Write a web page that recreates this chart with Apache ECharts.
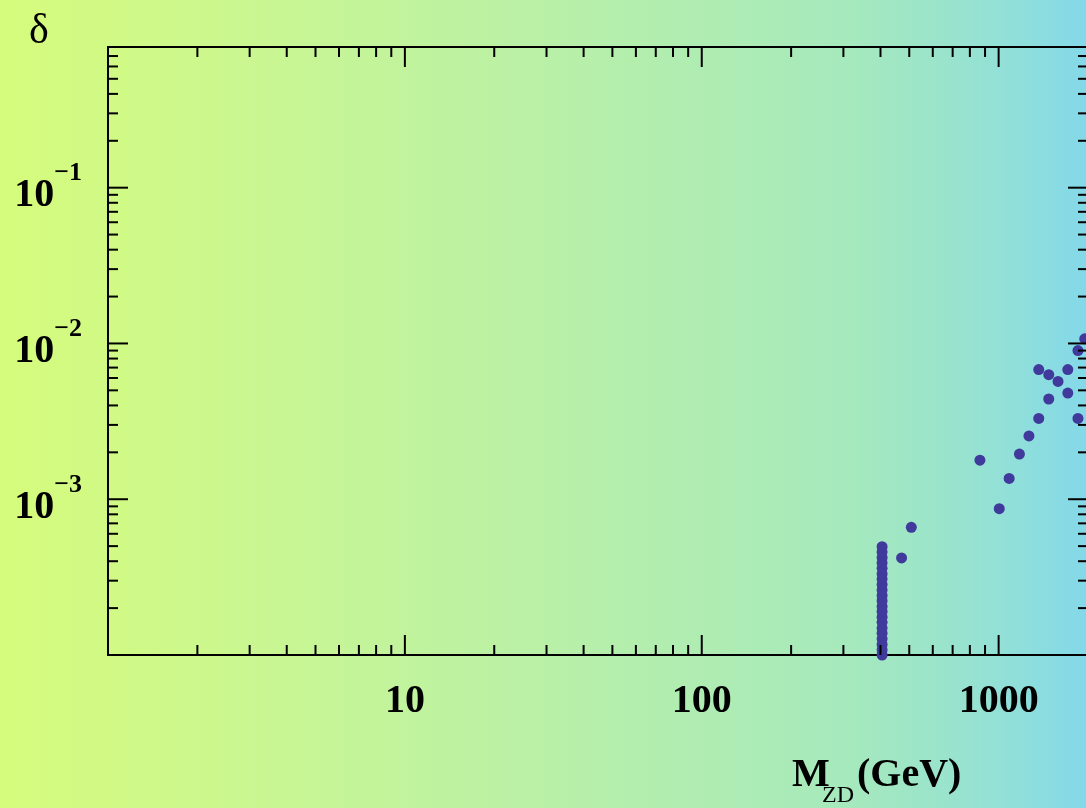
<!DOCTYPE html>
<html>
<head>
<meta charset="utf-8">
<script src="https://cdn.jsdelivr.net/npm/echarts@6/dist/echarts.min.js"></script>
<style>
  html, body { margin: 0; padding: 0; }
  #chart { width: 1086px; height: 808px; }
</style>
</head>
<body>
<div id="chart"></div>
<script>
// axis ranges
const xMin = 1, xMax = 2000;
const yMin = 1e-4, yMax = 0.8;

// vertical column of points at M_ZD ~ 405 GeV
const columnMass = 405;
const columnDelta = [1.00e-4, 1.08e-4, 1.17e-4, 1.27e-4, 1.38e-4, 1.49e-4, 1.62e-4, 1.75e-4,
  1.90e-4, 2.05e-4, 2.23e-4, 2.41e-4, 2.61e-4, 2.83e-4, 3.07e-4, 3.32e-4, 3.60e-4,
  3.90e-4, 4.22e-4, 4.58e-4, 4.96e-4];

// scattered points
const scanMass  = [471, 508, 865, 1005, 1085, 1175, 1265, 1365, 1365, 1475, 1475, 1585, 1710, 1710, 1850, 1850, 1950];
const scanDelta = [0.00042, 0.00066, 0.00178, 0.00087, 0.00136, 0.00195, 0.00255, 0.0033, 0.0068,
  0.0044, 0.0063, 0.0057, 0.0048, 0.0068, 0.0033, 0.0090, 0.0107];

// tick positions
const xMajorTicks = [1, 10, 100, 1000];
const xMinorTicks = [2, 3, 4, 5, 6, 7, 8, 9, 20, 30, 40, 50, 60, 70, 80, 90,
  200, 300, 400, 500, 600, 700, 800, 900];
const yMajorTicks = [1e-4, 1e-3, 1e-2, 1e-1];
const yMinorTicks = [2e-4, 3e-4, 4e-4, 5e-4, 6e-4, 7e-4, 8e-4, 9e-4,
  2e-3, 3e-3, 4e-3, 5e-3, 6e-3, 7e-3, 8e-3, 9e-3,
  2e-2, 3e-2, 4e-2, 5e-2, 6e-2, 7e-2, 8e-2, 9e-2,
  0.2, 0.3, 0.4, 0.5, 0.6, 0.7];

const serif = '"Liberation Serif", "DejaVu Serif", serif';

function isPow10(v) {
  let e = Math.log10(v);
  return Math.abs(e - Math.round(e)) < 1e-6;
}

function xTick(params, api) {
  let v = api.value(0), len = api.value(2) ? 20 : 10;
  let b = api.coord([v, yMin]), t = api.coord([v, yMax]);
  let st = { stroke: '#000', lineWidth: 2 };
  return { type: 'group', children: [
    { type: 'line', shape: { x1: b[0], y1: b[1], x2: b[0], y2: b[1] - len }, style: st },
    { type: 'line', shape: { x1: t[0], y1: t[1], x2: t[0], y2: t[1] + len }, style: st }
  ]};
}

function yTick(params, api) {
  let v = api.value(1), len = api.value(2) ? 20 : 10;
  let l = api.coord([xMin, v]), r = api.coord([xMax, v]);
  let st = { stroke: '#000', lineWidth: 2 };
  return { type: 'group', children: [
    { type: 'line', shape: { x1: l[0], y1: l[1], x2: l[0] + len, y2: l[1] }, style: st },
    { type: 'line', shape: { x1: r[0], y1: r[1], x2: r[0] - len, y2: r[1] }, style: st }
  ]};
}

let xTickData = xMajorTicks.map(v => [v, yMin, 1]).concat(xMinorTicks.map(v => [v, yMin, 0]));
let yTickData = yMajorTicks.map(v => [xMin, v, 1]).concat(yMinorTicks.map(v => [xMin, v, 0]));

let option = {
  backgroundColor: {
    type: 'linear', x: 0, y: 0, x2: 1, y2: 0,
    colorStops: [
      { offset: 0, color: '#d6fc7c' },
      { offset: 0.3, color: '#c6f597' },
      { offset: 0.55, color: '#b6efab' },
      { offset: 0.78, color: '#a6e9bc' },
      { offset: 0.9, color: '#96e2d2' },
      { offset: 1, color: '#84d9e9' }
    ]
  },
  animation: false,
  grid: {
    left: 108, top: 47, width: 980, height: 608, outerBoundsMode: 'none', containLabel: false,
    show: true, borderColor: '#000', borderWidth: 2, backgroundColor: 'transparent'
  },
  xAxis: {
    type: 'log', logBase: 10, min: xMin, max: xMax,
    axisLine: { show: false }, axisTick: { show: false }, splitLine: { show: false }, minorTick: { show: false },
    axisLabel: {
      margin: 27, color: '#000', fontFamily: serif, fontWeight: 'bold', fontSize: 40,
      formatter: v => (isPow10(v) && Math.round(Math.log10(v)) > 0) ? String(Math.round(v)) : ''
    }
  },
  yAxis: {
    type: 'log', logBase: 10, min: yMin, max: yMax,
    axisLine: { show: false }, axisTick: { show: false }, splitLine: { show: false }, minorTick: { show: false },
    axisLabel: {
      margin: 26, color: '#000', padding: [16, 0, 0, 0],
      formatter: function (v) {
        if (!isPow10(v)) return '';
        let e = Math.round(Math.log10(v));
        if (e <= -4) return '';
        return '{b|10}{s|\u2212' + Math.abs(e) + '}';
      },
      rich: {
        b: { fontFamily: serif, fontWeight: 'bold', fontSize: 40, lineHeight: 70, verticalAlign: 'middle', color: '#000' },
        s: { fontFamily: serif, fontWeight: 'bold', fontSize: 26, lineHeight: 26, verticalAlign: 'top', color: '#000' }
      }
    }
  },
  graphic: [
    { type: 'text', left: 29, top: 11, style: { text: '\u03b4', font: '42px ' + serif, fill: '#000' } },
    { type: 'text', x: 792, y: 776, style: { text: 'M', font: 'bold 40px ' + serif, fill: '#000', verticalAlign: 'middle' } },
    { type: 'text', x: 822, y: 796, style: { text: 'ZD', font: '24px ' + serif, fill: '#000', verticalAlign: 'middle' } },
    { type: 'text', x: 857, y: 776, style: { text: '(GeV)', font: 'bold 40px ' + serif, fill: '#000', verticalAlign: 'middle' } }
  ],
  series: [
    {
      type: 'scatter', symbolSize: 11, itemStyle: { color: '#3f3a9c', opacity: 1 },
      data: columnDelta.map(d => [columnMass, d])
    },
    {
      type: 'scatter', symbolSize: 11, itemStyle: { color: '#3f3a9c', opacity: 1 },
      data: scanMass.map((m, i) => [m, scanDelta[i]])
    },
    { type: 'custom', renderItem: xTick, data: xTickData, silent: true, z: 5 },
    { type: 'custom', renderItem: yTick, data: yTickData, silent: true, z: 5 }
  ]
};

let chart = echarts.init(document.getElementById('chart'));
chart.setOption(option);
</script>
</body>
</html>
